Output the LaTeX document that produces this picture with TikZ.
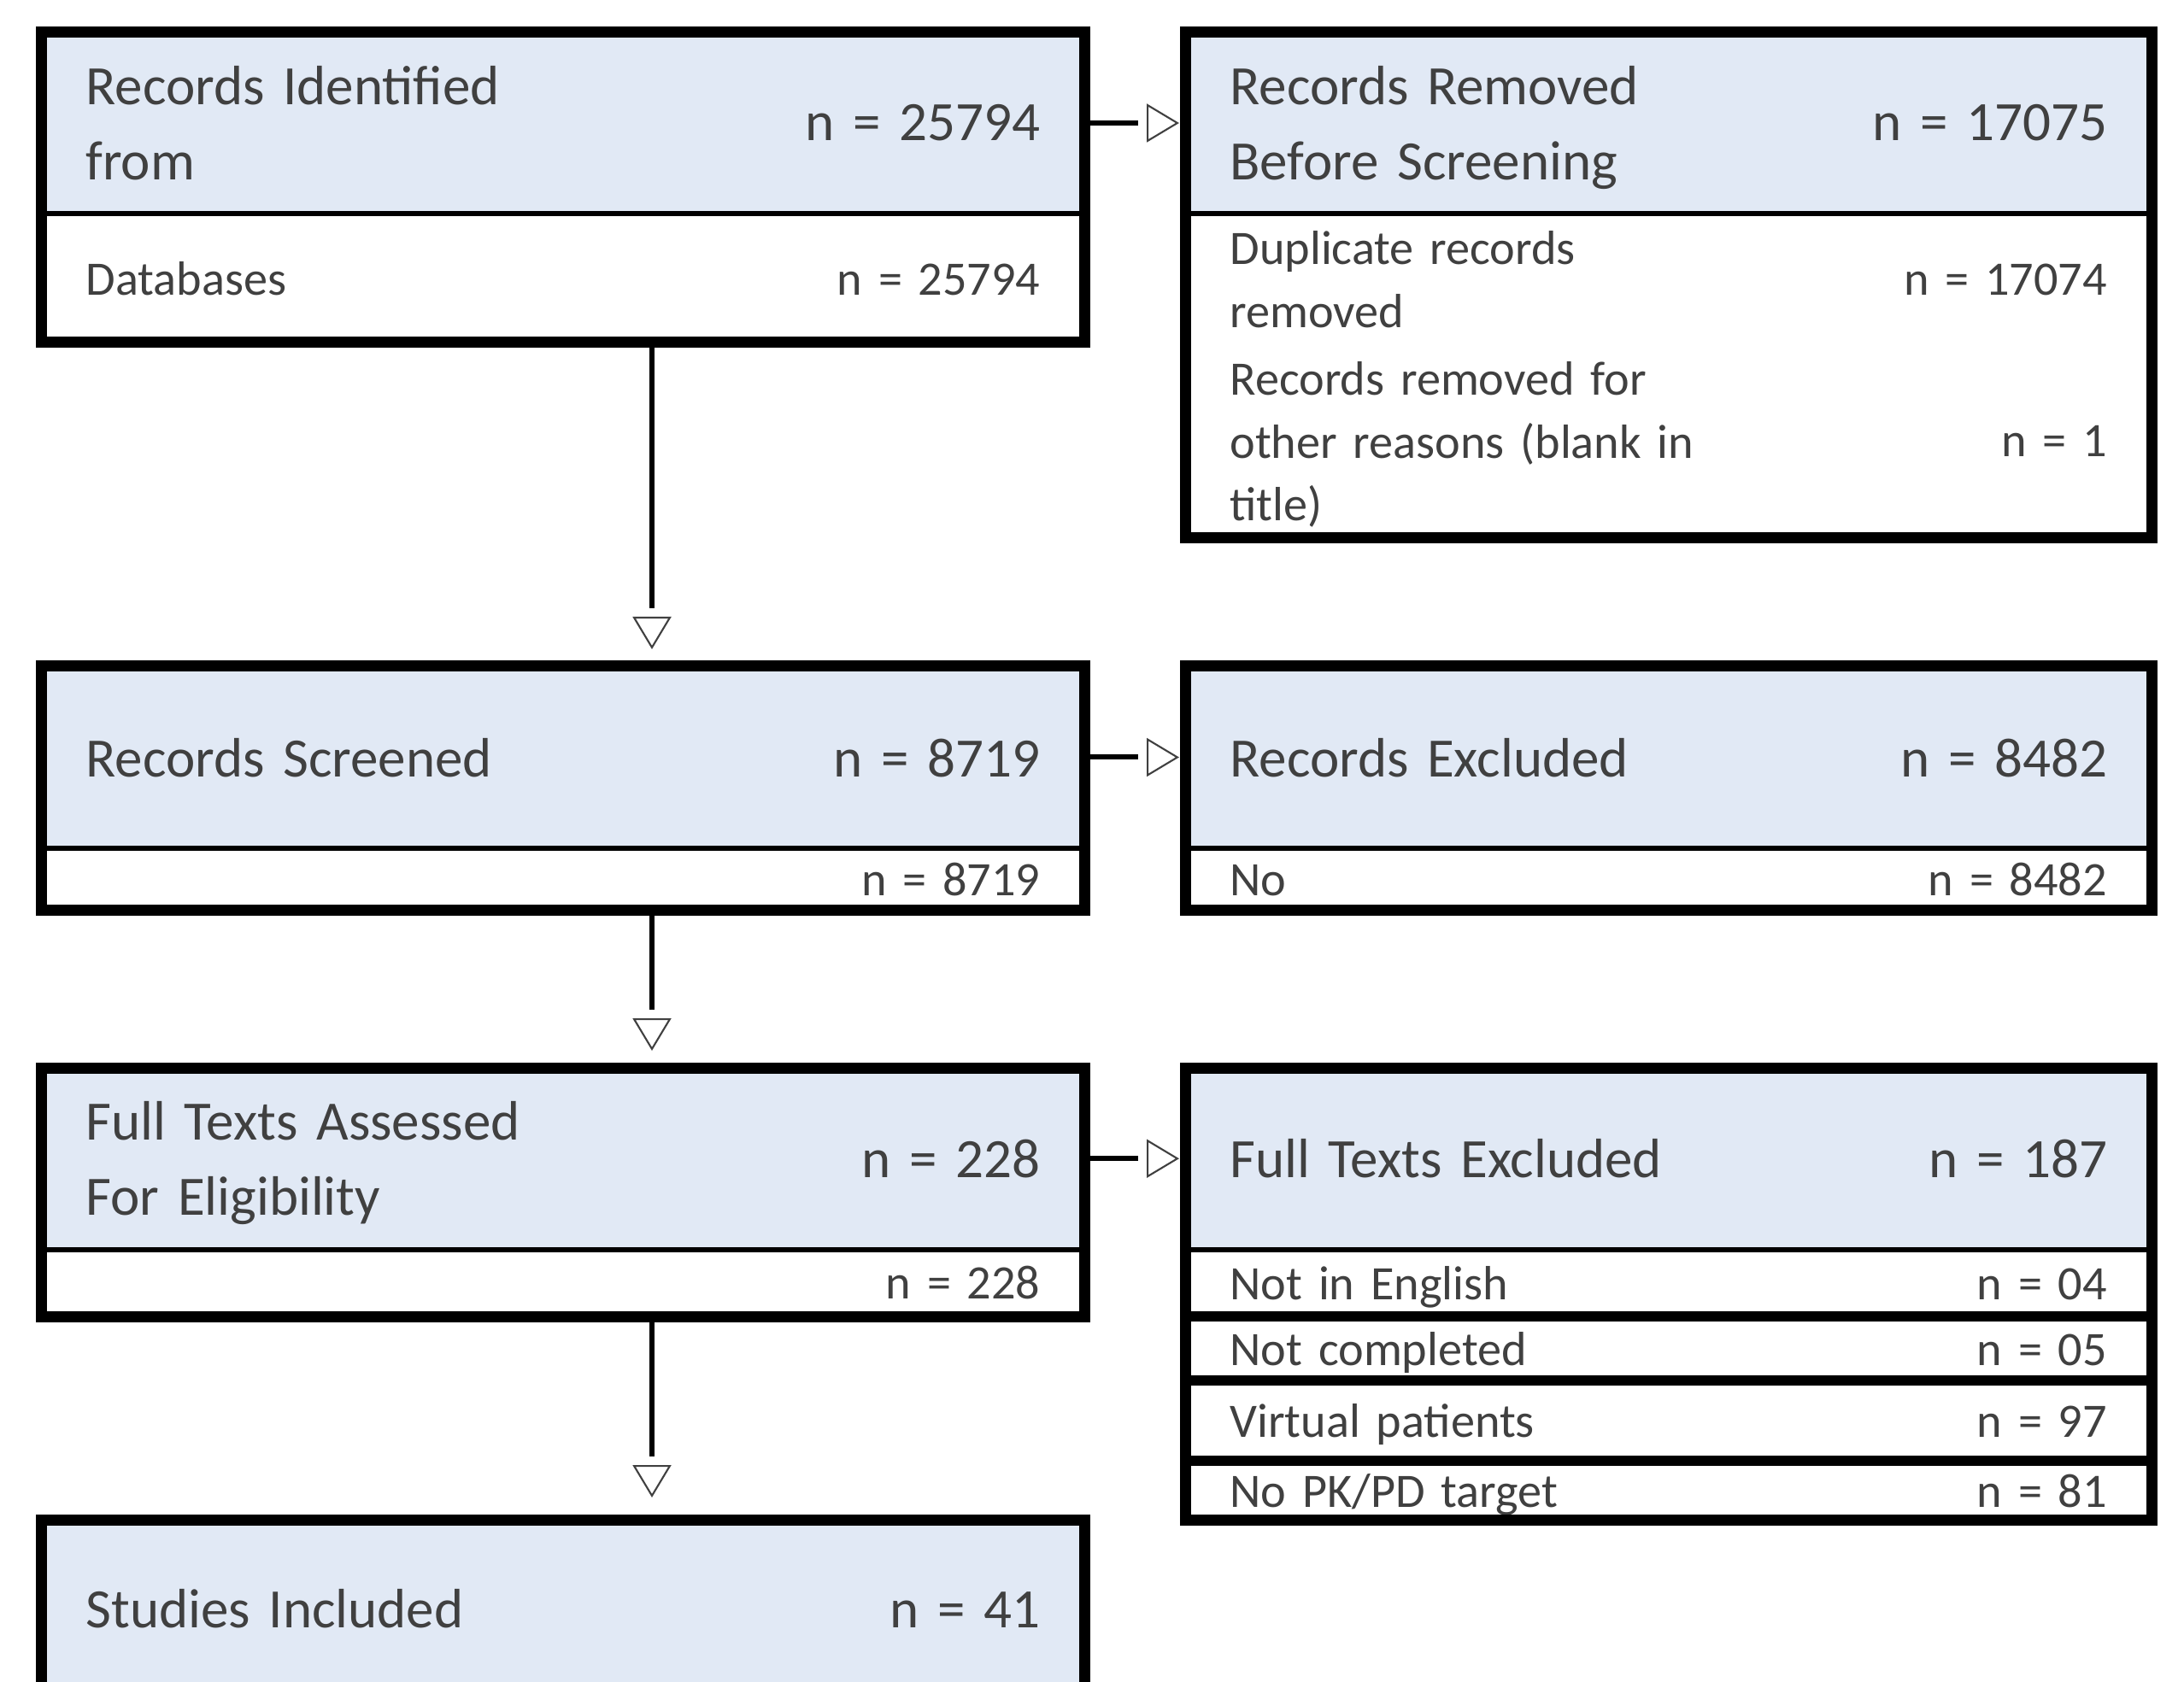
\documentclass[tikz,border=0pt]{standalone}
\usepackage{fontspec}
\setmainfont{Carlito}
\usepackage{xcolor}
\usepackage{tikz}
\usetikzlibrary{arrows.meta, positioning}
\definecolor{prismafill}{RGB}{225, 233, 245}
\definecolor{prismatext}{RGB}{64, 64, 64}

\begin{document}
\begin{tikzpicture}[
        node distance=0pt and 1.18cm,
        cell/.style={rectangle, inner xsep=0.52cm, inner ysep=0pt, outer sep=0pt, align=left, text=prismatext},
        headcell/.style={cell, fill=prismafill, font=\fontsize{18.5}{25}\selectfont},
        rowcell/.style={cell, fill=white, font=\fontsize{16}{21}\selectfont},
        oneline/.style={text depth=0pt},
        leftcol/.style={text width=11.17cm},
        rightcol/.style={text width=10.265cm},
        boxframe/.style={draw=black, line width=0.13cm},
        divider/.style={draw=black, line width=0.06cm},
        rowbar/.style={draw=black, line width=0.12cm},
        arrow/.style={draw=black, line width=0.06cm, -{Rectangle[length=0.1cm, width=0.06cm, line width=0pt, sep=0pt, color=white] Triangle[open, length=0.38cm, width=0.45cm, line width=0.6pt, sep=0pt, color=prismatext]}},
        harrow/.style={arrow, shorten >=0.075cm},
        varrow/.style={arrow, shorten >=0.2cm}
    ]
        \path[use as bounding box, clip] (0,0) rectangle (25.56,-19.69);
        \node[headcell, leftcol, minimum height=2.13cm, anchor=north west] (ident) at (0.485,-0.375) {\parbox[c]{7cm}{Records Identified\\from\par\kern-\prevdepth}\hfill\parbox[c]{3cm}{\raggedleft n = 25794}};
        \node[rowcell, oneline, leftcol, minimum height=1.505cm, below=of ident] (identdb) {Databases\hfill n = 25794};
        \node[headcell, rightcol, minimum height=2.13cm, right=of ident] (removed) {\parbox[c]{7cm}{Records Removed\\Before Screening\par\kern-\prevdepth}\hfill\parbox[c]{3cm}{\raggedleft n = 17075}};
        \node[rowcell, rightcol, minimum height=1.53cm, below=of removed] (removeddup) {\parbox[c]{7cm}{Duplicate records\\removed\par\kern-\prevdepth}\hfill\parbox[c]{3cm}{\raggedleft n = 17074}};
        \node[rowcell, rightcol, minimum height=2.26cm, below=of removeddup] (removedother) {\parbox[c]{7cm}{Records removed for\\other reasons (blank in\\title)\par\kern-\prevdepth}\hfill\parbox[c]{3cm}{\raggedleft n = 1}};
        \node[headcell, oneline, leftcol, minimum height=2.13cm, below=3.79cm of identdb] (screened) {Records Screened\hfill n = 8719};
        \node[rowcell, oneline, leftcol, minimum height=0.72cm, below=of screened] (screenedn) {\null\hfill n = 8719};
        \node[headcell, oneline, rightcol, minimum height=2.13cm, right=of screened] (excluded) {Records Excluded\hfill n = 8482};
        \node[rowcell, oneline, rightcol, minimum height=0.72cm, below=of excluded] (excludedno) {No\hfill n = 8482};
        \node[headcell, leftcol, minimum height=2.125cm, below=1.85cm of screenedn] (fulltext) {\parbox[c]{7cm}{Full Texts Assessed\\For Eligibility\par\kern-\prevdepth}\hfill\parbox[c]{3cm}{\raggedleft n = 228}};
        \node[rowcell, oneline, leftcol, minimum height=0.785cm, below=of fulltext] (fulltextn) {\null\hfill n = 228};
        \node[headcell, oneline, rightcol, minimum height=2.125cm, right=of fulltext] (ftexcl) {Full Texts Excluded\hfill n = 187};
        \node[rowcell, oneline, rightcol, minimum height=0.785cm, below=of ftexcl] (ftenglish) {Not in English\hfill n = 04};
        \node[rowcell, oneline, rightcol, minimum height=0.75cm, below=of ftenglish] (ftcompleted) {Not completed\hfill n = 05};
        \node[rowcell, oneline, rightcol, minimum height=0.94cm, below=of ftcompleted] (ftvirtual) {Virtual patients\hfill n = 97};
        \node[rowcell, oneline, rightcol, minimum height=0.69cm, below=of ftvirtual] (fttarget) {No PK/PD target\hfill n = 81};
        \node[headcell, oneline, leftcol, minimum height=2.08cm, below=2.38cm of fulltextn] (included) {Studies Included\hfill n = 41};
        \draw[boxframe] (ident.north west) rectangle (identdb.south east);
        \draw[boxframe] (removed.north west) rectangle (removedother.south east);
        \draw[boxframe] (screened.north west) rectangle (screenedn.south east);
        \draw[boxframe] (excluded.north west) rectangle (excludedno.south east);
        \draw[boxframe] (fulltext.north west) rectangle (fulltextn.south east);
        \draw[boxframe] (ftexcl.north west) rectangle (fttarget.south east);
        \draw[boxframe] (included.north west) rectangle (included.south east);
        \draw[divider] (ident.south west) -- (ident.south east);
        \draw[divider] (removed.south west) -- (removed.south east);
        \draw[divider] (screened.south west) -- (screened.south east);
        \draw[divider] (excluded.south west) -- (excluded.south east);
        \draw[divider] (fulltext.south west) -- (fulltext.south east);
        \draw[divider] (ftexcl.south west) -- (ftexcl.south east);
        \draw[rowbar] (ftenglish.south west) -- (ftenglish.south east);
        \draw[rowbar] (ftcompleted.south west) -- (ftcompleted.south east);
        \draw[rowbar] (ftvirtual.south west) -- (ftvirtual.south east);
        \coordinate (spine) at (7.63,0);
        \draw[harrow] (ident) -- (removed);
        \draw[harrow] (screened) -- (excluded);
        \draw[harrow] (fulltext) -- (ftexcl);
        \draw[varrow] (identdb.south -| spine) -- (screened.north -| spine);
        \draw[varrow] (screenedn.south -| spine) -- (fulltext.north -| spine);
        \draw[varrow, shorten >=0.26cm] (fulltextn.south -| spine) -- (included.north -| spine);
    \end{tikzpicture}
\end{document}
